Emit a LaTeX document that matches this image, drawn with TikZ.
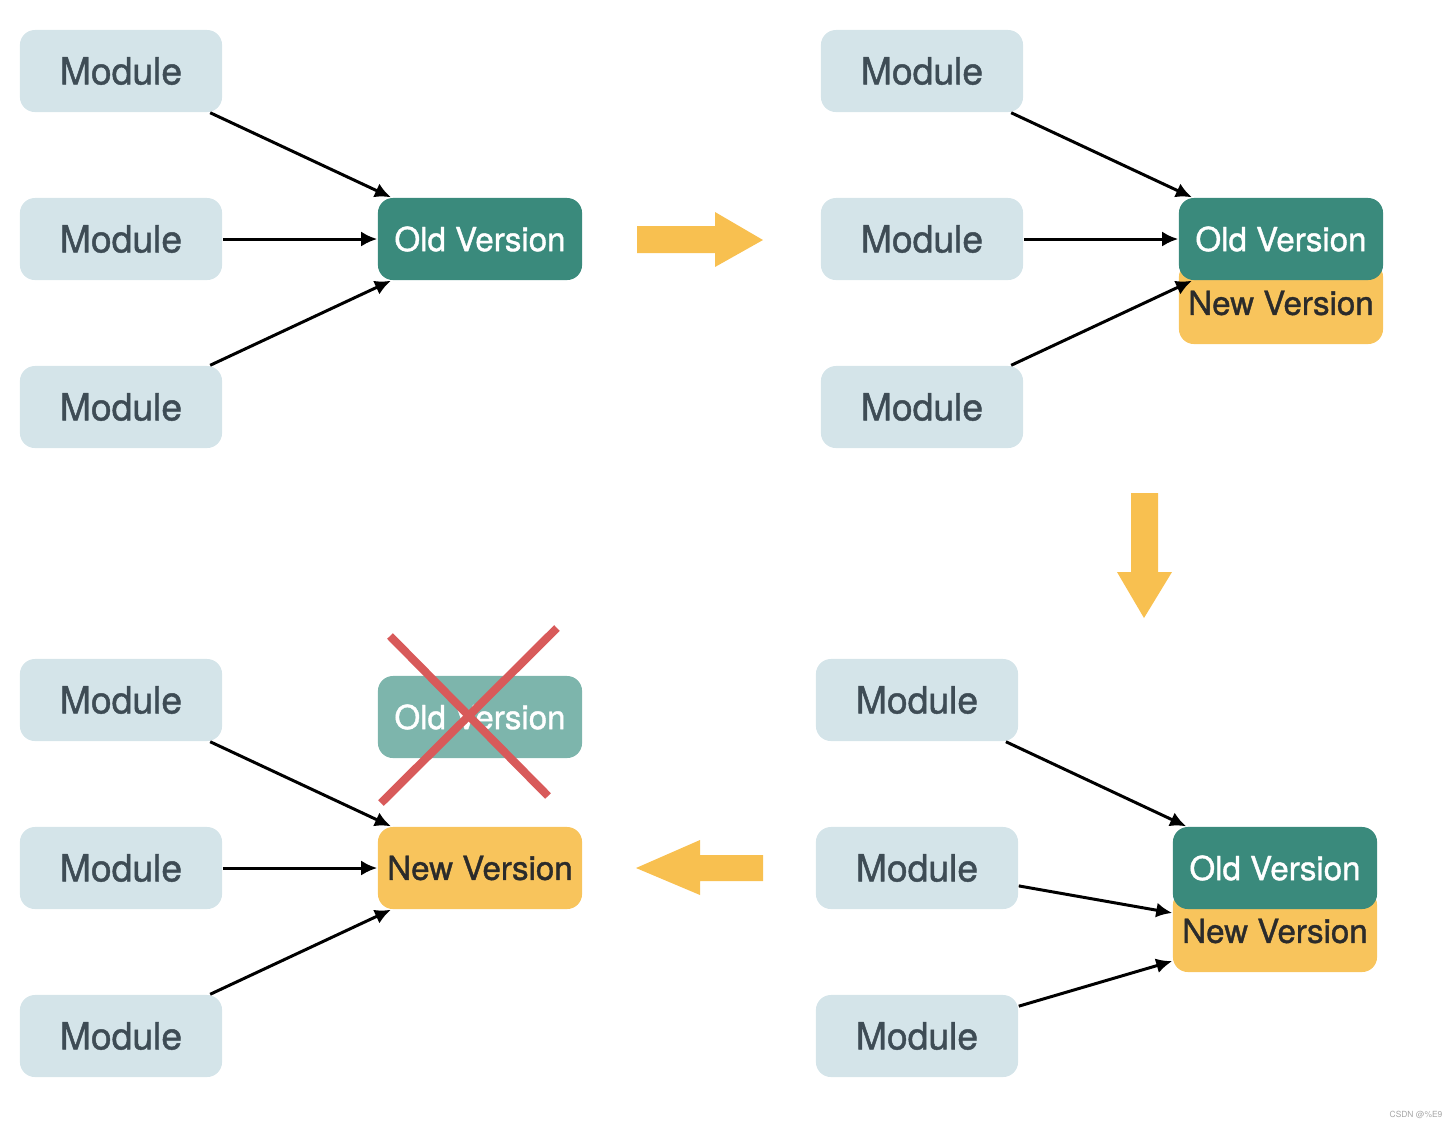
\documentclass[tikz,border=0pt]{standalone}
\usepackage{fontspec}
\setmainfont{TeX Gyre Heros}
\newfontfamily\medfont{TeX Gyre Heros}[FakeBold=1.2]
\usetikzlibrary{arrows.meta}
\definecolor{modfill}{HTML}{D4E4E9}
\definecolor{modtext}{HTML}{3E4C55}
\definecolor{oldfill}{HTML}{3A8A7C}
\definecolor{gonefill}{HTML}{7DB5AC}
\definecolor{newfill}{HTML}{F8C45C}
\definecolor{newtext}{HTML}{2B2B2B}
\definecolor{flowfill}{HTML}{F8C050}
\definecolor{crossred}{HTML}{D85A5A}
\tikzset{
	modbox/.style={fill=modfill, rounded corners=0.15cm, inner sep=0pt, minimum width=2.02cm, minimum height=0.82cm, text=modtext, font=\medfont\fontsize{10.6}{12}\selectfont},
	oldbox/.style={modbox, fill=oldfill, text=white, minimum width=2.04cm, font=\medfont\fontsize{9.4}{11}\selectfont},
	newbox/.style={oldbox, fill=newfill, text=newtext},
	gonebox/.style={oldbox, fill=gonefill},
	link/.style={->, line width=0.85pt},
	flow/.style={fill=flowfill},
	cross/.style={draw=crossred, line width=2.3pt}
}
\newcommand{\module}[3]{
	\node[modbox] (mod_#1) at (#2,#3) {Module};
}

\begin{document}
\begin{tikzpicture}[x=0.01cm, y=-0.01cm, >={Latex[length=0.16cm,width=0.15cm]}]
	\useasboundingbox (0,0) rectangle (1456,1129);

	% before
	\module{a1}{121}{71};
	\module{a2}{121}{239};
	\module{a3}{121}{407};
	\node[oldbox] (old_a) at (480,239) {Old Version};
	\foreach \i in {1,2,3} \draw[link] (mod_a\i) -- (old_a);

	\fill[flow] (637,226) -- (715,226) -- (715,212) -- (763,240) -- (715,267) -- (715,253) -- (637,253) -- cycle;

	% both versions, all modules on old
	\module{b1}{922}{71};
	\module{b2}{922}{239};
	\module{b3}{922}{407};
	\node[newbox] (new_b) at (1281,303) {New Version};
	\node[oldbox] (old_b) at (1281,239) {Old Version};
	\foreach \i in {1,2,3} \draw[link] (mod_b\i) -- (old_b);

	\fill[flow] (1131,493) -- (1158,493) -- (1158,572) -- (1172,572) -- (1144,618) -- (1117,572) -- (1131,572) -- cycle;

	% modules moving to new
	\module{c1}{917}{700};
	\module{c2}{917}{868};
	\module{c3}{917}{1036};
	\node[newbox] (new_c) at (1275,931) {New Version};
	\node[oldbox] (old_c) at (1275,868) {Old Version};
	\draw[link] (mod_c1) -- (old_c);
	\draw[link] (mod_c2) -- (new_c);
	\draw[link] (mod_c3) -- (new_c);

	\fill[flow] (763,855) -- (700,855) -- (700,840) -- (636,868) -- (700,895) -- (700,881) -- (763,881) -- cycle;

	% after
	\module{d1}{121}{700};
	\module{d2}{121}{868};
	\module{d3}{121}{1036};
	\node[gonebox] (gone_d) at (480,717) {Old Version};
	\node[newbox] (new_d) at (480,868) {New Version};
	\foreach \i in {1,2,3} \draw[link] (mod_d\i) -- (new_d);
	\draw[cross] (390,636) -- (548,796);
	\draw[cross] (557,628) -- (381,803);

	\node[font=\fontsize{2.4}{3}\selectfont, text=gray!70] (mark) at (1416,1115) {CSDN @\%E9};
\end{tikzpicture}
\end{document}
